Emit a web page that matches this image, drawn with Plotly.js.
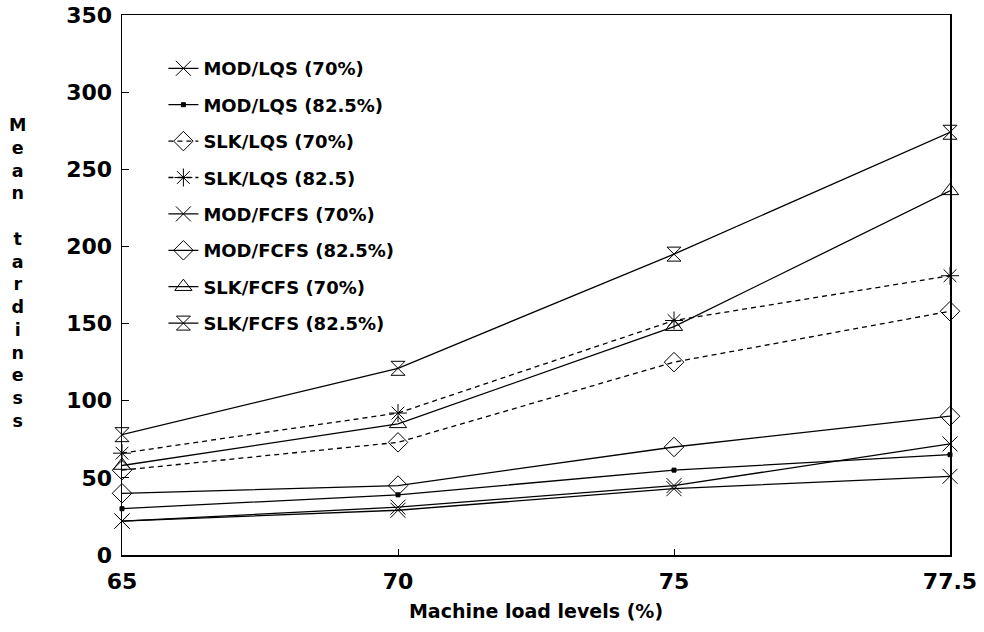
<!DOCTYPE html>
<html>
<head>
<meta charset="utf-8">
<script src="https://cdn.plot.ly/plotly-3.0.1.min.js"></script>
<style>html,body{margin:0;padding:0;background:#fff;}#chart{width:984px;height:632px;}</style>
</head>
<body>
<div id="chart"></div>
<script>
const loadLevels = ['65', '70', '75', '77.5'];

const seriesNames = [
  'MOD/LQS (70%)',
  'MOD/LQS (82.5%)',
  'SLK/LQS (70%)',
  'SLK/LQS (82.5)',
  'MOD/FCFS (70%)',
  'MOD/FCFS (82.5%)',
  'SLK/FCFS (70%)',
  'SLK/FCFS (82.5%)'
];

const modLqs70   = [22, 29, 43, 51];
const modLqs825  = [30, 39, 55, 65];
const slkLqs70   = [55, 73, 125, 158];
const slkLqs825  = [66, 92, 152, 181];
const modFcfs70  = [22, 31, 45, 72];
const modFcfs825 = [40, 45, 70, 90];
const slkFcfs70  = [58, 85, 148, 236];
const slkFcfs825 = [78, 121, 195, 274];

const seriesValues = [modLqs70, modLqs825, slkLqs70, slkLqs825, modFcfs70, modFcfs825, slkFcfs70, slkFcfs825];

const styles = [
  {symbol: 'x-thin-open', size: 15, dash: 'solid'},
  {symbol: 'square', size: 4, dash: 'solid'},
  {symbol: 'diamond-open', size: 15, dash: 'dash'},
  {symbol: 'asterisk-open', size: 15, dash: 'dash'},
  {symbol: 'x-thin-open', size: 15, dash: 'solid'},
  {symbol: 'diamond-open', size: 15, dash: 'solid'},
  {symbol: 'triangle-up-open', size: 15, dash: 'solid'},
  {symbol: 'hourglass-open', size: 14, dash: 'solid'}
];

const traces = seriesNames.map((name, i) => ({
  type: 'scatter',
  mode: 'lines+markers',
  name: name,
  legendgroup: 'g' + i,
  x: loadLevels,
  y: seriesValues[i],
  line: {color: '#000', width: 1.3, dash: styles[i].dash === 'dash' ? '5px,4px' : 'solid'},
  marker: {symbol: styles[i].symbol, size: styles[i].size, color: '#000',
           line: {color: '#000', width: 1}},
  cliponaxis: false
}));

const yTitle = 'Mean tardiness'.split('').join('<br>');

const layout = {
  width: 984,
  height: 632,
  margin: {l: 122, r: 34, t: 15, b: 77},
  paper_bgcolor: '#fff',
  plot_bgcolor: '#fff',
  showlegend: true,
  font: {family: 'DejaVu Sans, Arial, sans-serif', color: '#000'},
  legend: {
    x: 0.05, y: 0.935, xanchor: 'left', yanchor: 'top',
    bgcolor: 'rgba(0,0,0,0)',
    font: {family: 'DejaVu Sans', size: 18, weight: 'bold', color: '#000'},
    traceorder: 'grouped',
    tracegroupgap: 10
  },
  xaxis: {
    type: 'category',
    range: [0, 3],
    showline: true, linecolor: '#000', linewidth: 1.5, mirror: true,
    showgrid: false, zeroline: false,
    ticks: 'inside', ticklen: 6, tickcolor: '#000',
    ticklabelstandoff: 6,
    tickfont: {family: 'DejaVu Sans', size: 22, weight: 'bold', color: '#000'},
    title: {text: 'Machine load levels (%)', font: {family: 'DejaVu Sans', size: 19, weight: 'bold', color: '#000'}, standoff: 12}
  },
  yaxis: {
    range: [0, 350],
    dtick: 50,
    showline: true, linecolor: '#000', linewidth: 1.5, mirror: true,
    showgrid: false, zeroline: false,
    ticks: 'inside', ticklen: 7, tickcolor: '#000',
    ticklabelstandoff: 4,
    tickfont: {family: 'DejaVu Sans', size: 22, weight: 'bold', color: '#000'}
  },
  annotations: [{
    text: yTitle,
    xref: 'paper', yref: 'paper',
    x: -0.126, y: 0.818, xanchor: 'center', yanchor: 'top',
    showarrow: false,
    font: {family: 'DejaVu Sans', size: 17.5, weight: 'bold', color: '#000'}
  }]
};

Plotly.newPlot('chart', traces, layout, {staticPlot: true, displayModeBar: false});
</script>
</body>
</html>
